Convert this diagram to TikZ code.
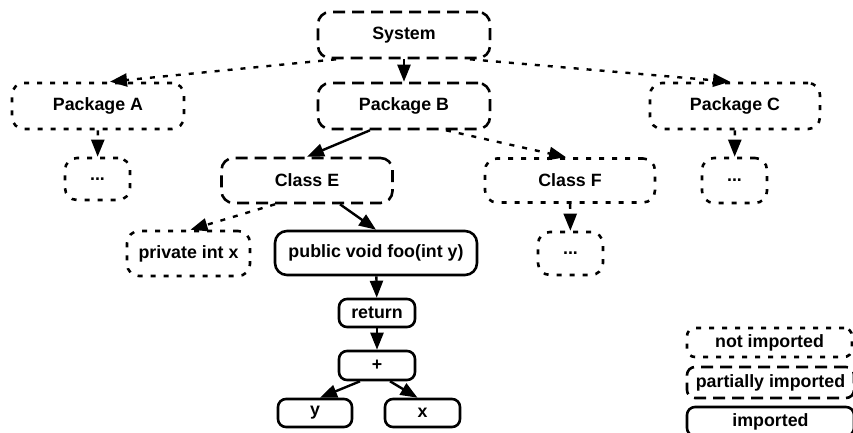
\documentclass[tikz,border=0pt]{standalone}
\usepackage{fontspec}
\setmainfont{Liberation Sans}
\usetikzlibrary{arrows.meta}

\tikzset{
  box/.style={draw, line width=2.6pt, rounded corners=12pt, inner sep=0pt,
              font=\fontsize{17.8}{20}\selectfont\bfseries, align=center},
  smallbox/.style={box, rounded corners=8pt},
  notimp/.style={dash pattern=on 5pt off 8pt},
  partimp/.style={dash pattern=on 12pt off 7pt},
  sz/.style 2 args={minimum width=#1pt, minimum height=#2pt},
  edge/.style={line width=2.4pt, -{Triangle[length=17pt,width=13pt]}},
}

\begin{document}
\begin{tikzpicture}[x=1pt,y=-1pt]
\useasboundingbox (0,0) rectangle (853,433);

% package / class tree
\node[box,partimp,sz={172}{46}] (sys) at (404,35) {System};
\node[box,notimp,sz={172}{46}] (pa) at (98,106) {Package A};
\node[box,partimp,sz={172}{46}] (pb) at (404,106) {Package B};
\node[box,notimp,sz={170}{46}] (pc) at (735,106) {Package C};

\node[box,notimp,sz={65}{42}] (da) at (97.5,179) {...};
\node[box,partimp,sz={171}{45}] (ce) at (307,180.5) {Class E};
\node[box,notimp,sz={170}{44}] (cf) at (570,180.5) {Class F};
\node[box,notimp,sz={65}{45}] (dc) at (734.5,180.5) {...};

\node[box,notimp,sz={123}{45}] (px) at (188.5,253.5) {private int x};
\node[box,sz={202}{44}] (foo) at (376,253) {public void foo(int y)};
\node[box,notimp,sz={65}{43}] (df) at (570.5,253.5) {...};

% body of foo
\node[smallbox,sz={76}{28}] (ret) at (377,313) {return};
\node[smallbox,sz={76}{29}] (plus) at (377,365.5) {+};
\node[smallbox,sz={74}{28}] (ny) at (315,413) {y};
\node[smallbox,sz={75}{28}] (nx) at (422.5,413) {x};

% legend
\node[smallbox,notimp,sz={165}{29}] (lnot) at (769.5,342.5) {not imported};
\node[smallbox,partimp,sz={167}{31}] (lpart) at (770.5,382.5) {partially imported};
\node[smallbox,sz={167}{29}] (limp) at (770.5,421.5) {imported};

% connectors
\draw[edge,notimp] ([xshift=-68pt]sys.south) -- ([xshift=12pt]pa.north);
\draw[edge] (sys) -- (pb);
\draw[edge,notimp] ([xshift=66pt]sys.south) -- ([xshift=-5pt]pc.north);

\draw[edge,notimp] (pa) -- (da);
\draw[edge] ([xshift=-34pt]pb.south) -- (ce.north);
\draw[edge,notimp] ([xshift=42pt]pb.south) -- ([xshift=-4pt]cf.north);
\draw[edge,notimp] (pc) -- (dc);

\draw[edge,notimp] ([xshift=-32pt]ce.south) -- ([xshift=2pt]px.north);
\draw[edge] ([xshift=33pt]ce.south) -- (foo.north);
\draw[edge,notimp] (cf) -- (df);

\draw[edge] (foo) -- (ret);
\draw[edge] (ret) -- (plus);
\draw[edge] ([xshift=-17pt]plus.south) -- ([xshift=5pt]ny.north);
\draw[edge] ([xshift=13pt]plus.south) -- ([xshift=-5pt]nx.north);
\end{tikzpicture}
\end{document}
